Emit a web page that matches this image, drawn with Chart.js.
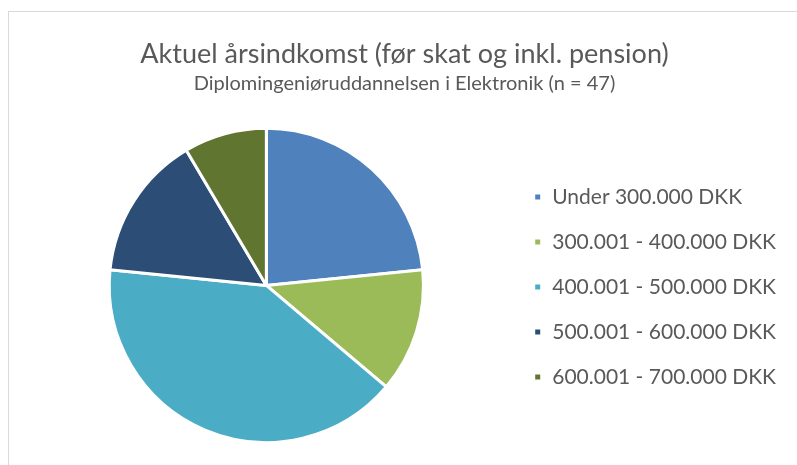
<!DOCTYPE html>
<html>
<head>
<meta charset="utf-8">
<script src="https://cdn.jsdelivr.net/npm/chart.js@4.4.1/dist/chart.umd.min.js"></script>
<style>
  html, body { margin: 0; padding: 0; background: #fff; overflow: hidden; }
  #frame {
    position: absolute; left: 8px; top: 11px; width: 820px; height: 480px;
    border: 1px solid #d9d9d9;
  }
  #wrap { position: absolute; left: 9px; top: 12px; width: 794px; height: 453px; }
</style>
</head>
<body>
<div id="frame"></div>
<div id="wrap"><canvas id="chart"></canvas></div>
<script>
const categories = [
  "Under 300.000 DKK",
  "300.001 - 400.000 DKK",
  "400.001 - 500.000 DKK",
  "500.001 - 600.000 DKK",
  "600.001 - 700.000 DKK",
];
const counts = [11, 6, 19, 7, 4];
const colors = ["#4f81bd", "#9bbb59", "#4bacc6", "#2c4d75", "#5f7530"];

const titleText = "Aktuel årsindkomst (før skat og inkl. pension)";
const subtitleText = "Diplomingeniøruddannelsen i Elektronik (n = 47)";

const chartCanvas = document.getElementById("chart");

const chart = new Chart(chartCanvas.getContext("2d"), {
  type: "pie",
  data: {
    labels: categories,
    datasets: [{
      data: counts,
      backgroundColor: colors,
      borderColor: "#ffffff",
      borderWidth: 3,
    }],
  },
  options: {
    responsive: true,
    maintainAspectRatio: false,
    animation: false,
    layout: {
      padding: { left: 14, right: 17, top: 0, bottom: 21 },
    },
    plugins: {
      title: {
        display: true,
        text: titleText,
        color: "#595959",
        font: { family: "Lato", size: 27, weight: "normal" },
        padding: { top: 26, bottom: 1 },
      },
      subtitle: {
        display: true,
        text: subtitleText,
        color: "#595959",
        font: { family: "Lato", size: 20, weight: "normal" },
        padding: { top: 0, bottom: 31.4 },
      },
      legend: {
        position: "right",
        // empty legend title, only used to push the items down to the pie's middle
        title: {
          display: true,
          text: " ",
          font: { size: 1 },
          padding: { top: 117, bottom: 0 },
        },
        labels: {
          boxWidth: 8,
          boxHeight: 8,
          padding: 24,
          color: "#595959",
          font: { family: "Lato", size: 21 },
        },
      },
      tooltip: { enabled: false },
    },
  },
});
</script>
</body>
</html>
